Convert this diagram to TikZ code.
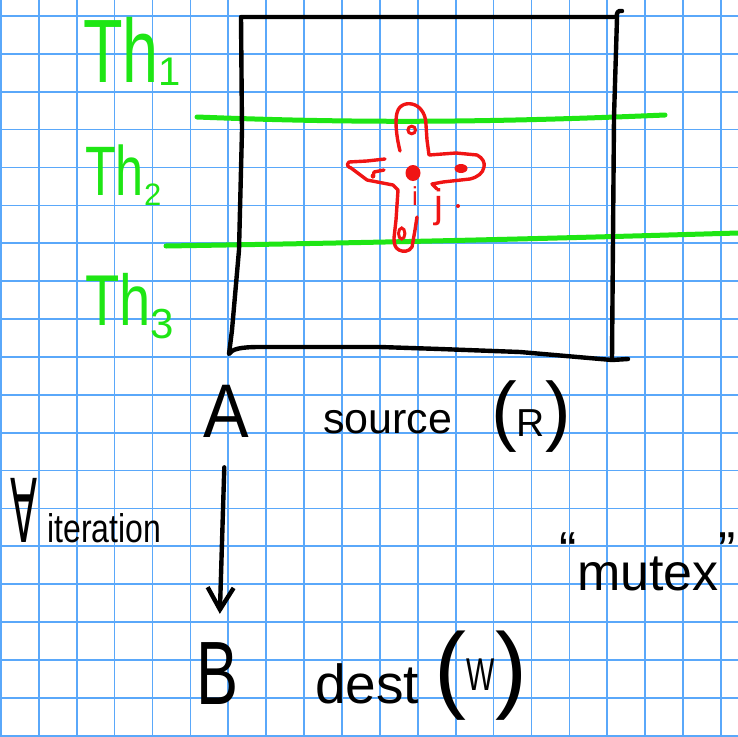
\documentclass[tikz,border=0pt]{standalone}
\usepackage{fontspec}
\usepackage{graphicx}
\setmainfont{Liberation Sans}
\newfontfamily\djv{DejaVu Sans}
\usetikzlibrary{arrows.meta}
\definecolor{gridblue}{RGB}{90,168,250}
\definecolor{hgreen}{RGB}{30,230,20}
\definecolor{hred}{RGB}{240,20,20}
\newcommand{\fsz}[1]{\fontsize{#1}{#1}\selectfont}
\begin{document}
\begin{tikzpicture}[x=1pt,y=-1pt,
  gridline/.style={draw=gridblue, line width=1.7pt},
  ink/.style={black, line width=4.4pt, line cap=round, line join=round},
  gink/.style={hgreen, line width=5pt, line cap=round},
  rink/.style={hred, line width=3.4pt, line cap=round, line join=round},
  thlabel/.style={text=hgreen, inner sep=0pt, anchor=base west},
  blabel/.style={text=black, inner sep=0pt},
  rlabel/.style={text=hred, inner sep=0pt, anchor=base}]
\useasboundingbox (0,0) rectangle (738,736);
\fill[white] (0,0) rectangle (738,736);
% grid
\foreach \i in {0,...,19} \draw[gridline] ({0.9+37.9*\i},0) -- ({0.9+37.9*\i},736);
\foreach \j in {0,...,19} \draw[gridline] (0,{16+37.88*\j}) -- (738,{16+37.88*\j});
% green separators
\draw[gink] (197,117) .. controls (350,123) and (480,123) .. (665,115);
\draw[gink] (166,246) .. controls (350,243) and (500,240) .. (738,233);
% black box
\draw[ink] (622,11) .. controls (618,10) and (616,13) .. (617,18) -- (614,117) -- (612,359);
\draw[ink] (617,17) -- (241,17) -- (242,130) -- (239,250) -- (232,330) -- (229,354)
  .. controls (232,349) and (240,347) .. (260,347) -- (380,347) -- (440,349) -- (520,352) -- (612,360) -- (628,359);
% thread labels
\node[thlabel] (th1) at (83,82) {\scalebox{0.72}[1]{\fsz{90}Th}\raisebox{-3pt}{\fsz{40}1}};
\node[thlabel] (th2) at (85,195) {\scalebox{0.72}[1]{\fsz{70}Th}\raisebox{-10pt}{\fsz{31}2}};
\node[thlabel] (th3) at (85,325) {\scalebox{0.78}[1]{\fsz{72}Th}\raisebox{-13pt}{\fsz{42}3}};
% red cross
\draw[rink] (400,151) .. controls (396,135) and (395,120) .. (397,113) .. controls (399,104) and (408,102) .. (415,105)
  .. controls (422,108) and (426,116) .. (426,125) -- (427,140) -- (429,155) -- (456,153) -- (477,155)
  .. controls (483,158) and (485,163) .. (484,167) .. controls (483,173) and (478,177) .. (470,179)
  -- (443,182) -- (432,184) -- (437,189);
\draw[rink] (385,159) -- (367,161) -- (349,162) .. controls (346,165) and (348,167) .. (351,168)
  -- (367,180) -- (393,185) -- (398,190) -- (396,220) -- (394,238)
  .. controls (394,244) and (395,248) .. (399,250) .. controls (403,252) and (409,252) .. (412,247)
  -- (415,230) -- (417,217);
\draw[rink] (373,177) -- (374,172) -- (384,170);
\fill[hred] (373,176) circle (2.4);
\draw[hred, line width=3pt] (411.7,130) circle (3.8);
\fill[hred] (413,173) ellipse (7.5 and 8);
\fill[hred] (461,168.5) ellipse (6.5 and 4.5);
\draw[hred, line width=3pt] (401.7,233.5) ellipse (3.2 and 5.5);
\fill[hred] (458,206) circle (2);
\node[rlabel] (ri) at (415,205) {\fsz{26}i};
\node[rlabel] (rj) at (439,217) {\fsz{40}j};
% bottom texts
\node[blabel] (A) at (226,411) {\scalebox{0.9}[1]{\fsz{76}A}};
\node[blabel, anchor=base west] (src) at (323,433) {\fsz{43}source};
\node[blabel, anchor=base] (srcR) at (531,436) {\fsz{77}(\fsz{39}R\fsz{77})};
\node[blabel] (B) at (218,674) {\scalebox{0.7}[1]{\fsz{90}B}};
\node[blabel, anchor=base west] (dst) at (315,703) {\fsz{55}dest};
\node[blabel, anchor=base] (dstW) at (481,700) {\fsz{96}(\raisebox{10pt}{\scalebox{0.65}[1]{\fsz{46}W}}\fsz{96})};
\node[blabel, anchor=base west] (iter) at (10,542) {\scalebox{0.45}[1]{\djv\fsz{88}∀}\hspace{10pt}\scalebox{0.8}[1]{\fsz{40}iteration}};
\node[blabel, anchor=base] (mtx) at (648,590) {\fsz{52}\raisebox{22pt}{“}mutex\raisebox{22pt}{”}};
% arrow
\draw[ink, -{Straight Barb[length=22pt,width=26pt]}, shorten <=30pt, shorten >=29pt] (A) -- (B);
\end{tikzpicture}
\end{document}
